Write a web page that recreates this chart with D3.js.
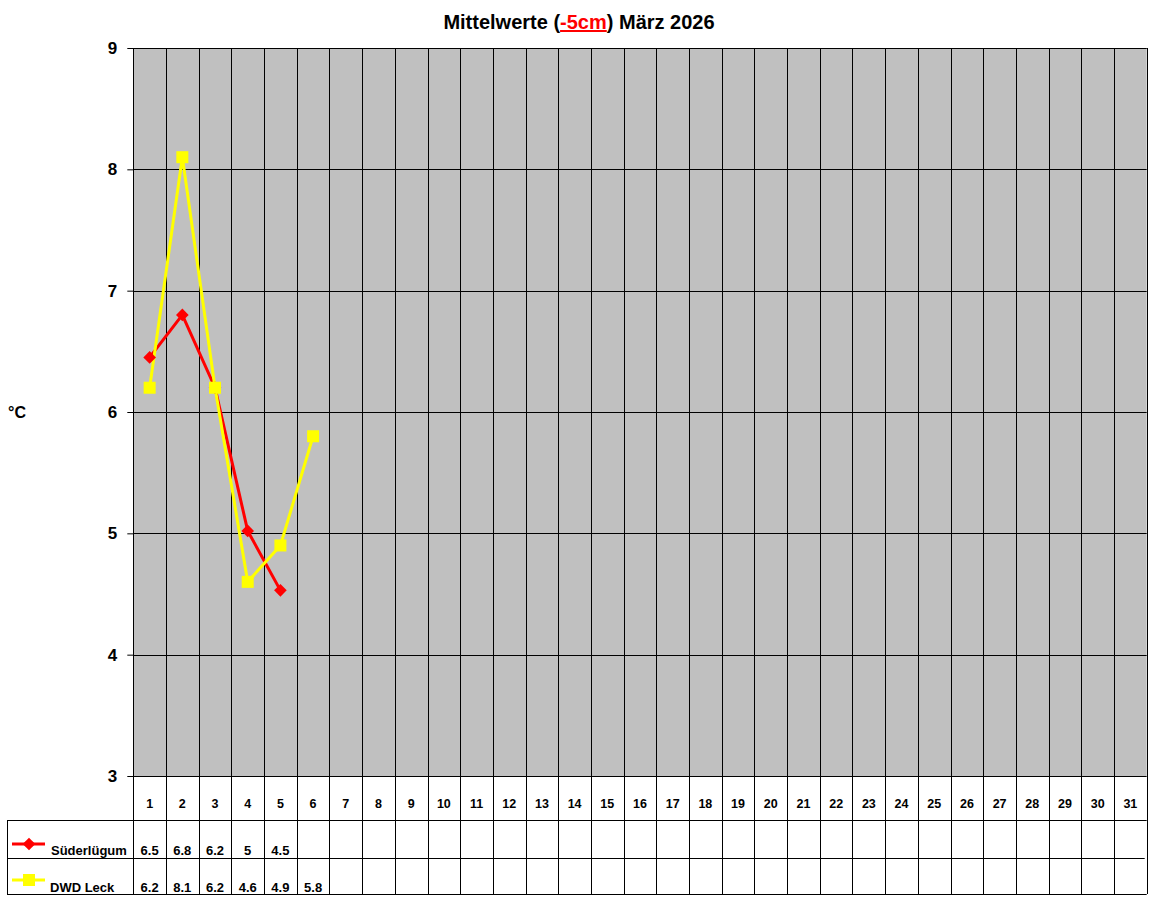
<!DOCTYPE html>
<html>
<head>
<meta charset="utf-8">
<script src="https://cdn.jsdelivr.net/npm/d3@7"></script>
<style>
  body { margin: 0; background: #fff; }
  svg { font-family: "Liberation Sans", Arial, sans-serif; font-weight: bold; }
</style>
</head>
<body>
<svg id="chart" width="1152" height="900"></svg>
<script>
// data
const days = d3.range(1, 32);
const sued = [6.45, 6.8, 6.2, 5.02, 4.53];
const dwd = [6.2, 8.1, 6.2, 4.6, 4.9, 5.8];
const suedLabels = ["6.5", "6.8", "6.2", "5", "4.5"];
const dwdLabels = ["6.2", "8.1", "6.2", "4.6", "4.9", "5.8"];
const yTicks = [3, 4, 5, 6, 7, 8, 9];

const svg = d3.select("#chart");
const plot = { left: 133.3, right: 1146.7, top: 48, bottom: 776 };
const rows = { header: 820, r1: 858, r2: 894 };

const x = d3.scaleBand().domain(days).range([plot.left, plot.right]);
const y = d3.scaleLinear().domain([3, 9]).range([plot.bottom, plot.top]);
const cx = d => x(d) + x.bandwidth() / 2;

// plot background
svg.append("rect")
  .attr("x", plot.left).attr("y", plot.top)
  .attr("width", plot.right - plot.left).attr("height", plot.bottom - plot.top)
  .attr("fill", "#c0c0c0");
svg.append("line")
  .attr("x1", plot.left).attr("x2", plot.right)
  .attr("y1", plot.top + 0.5).attr("y2", plot.top + 0.5)
  .attr("stroke", "#808080");

// horizontal grid
svg.append("g").selectAll("line").data(yTicks.slice(1)).enter().append("line")
  .attr("x1", plot.left).attr("x2", plot.right)
  .attr("y1", d => Math.round(y(d)) + 0.5).attr("y2", d => Math.round(y(d)) + 0.5)
  .attr("stroke", "#000");

// y axis
const yAxis = svg.append("g")
  .attr("transform", `translate(${plot.left},0)`)
  .call(d3.axisLeft(y).tickValues(yTicks).tickSize(6).tickPadding(10).tickFormat(d3.format("d")));
yAxis.select(".domain").remove();
yAxis.selectAll("line").attr("stroke", "#000");
yAxis.selectAll("text").attr("font-size", 17).attr("font-family", "Liberation Sans, Arial").attr("font-weight", "bold").attr("fill", "#000");

svg.append("text").attr("x", 8).attr("y", 418).attr("font-size", 16).text("°C");

// title
const title = svg.append("text").attr("x", 579).attr("y", 29)
  .attr("text-anchor", "middle").attr("font-size", 20);
title.append("tspan").text("Mittelwerte (");
title.append("tspan").attr("fill", "#ff0000").attr("text-decoration", "underline").text("-5cm");
title.append("tspan").text(") März 2026");

// vertical grid + table columns
const bounds = days.map(d => x(d)).concat([plot.right]);
svg.append("g").selectAll("line").data(bounds).enter().append("line")
  .attr("x1", d => Math.round(d) + 0.5).attr("x2", d => Math.round(d) + 0.5)
  .attr("y1", plot.top).attr("y2", rows.r2)
  .attr("stroke", "#000");

// table horizontal lines
svg.append("line").attr("x1", 7).attr("x2", plot.right).attr("y1", rows.header + 0.5).attr("y2", rows.header + 0.5).attr("stroke", "#000");
svg.append("line").attr("x1", 7).attr("x2", plot.right - 2).attr("y1", rows.r1 + 0.5).attr("y2", rows.r1 + 0.5).attr("stroke", "#000");
svg.append("line").attr("x1", 7).attr("x2", plot.right).attr("y1", rows.r2 + 0.5).attr("y2", rows.r2 + 0.5).attr("stroke", "#000");
svg.append("line").attr("x1", 7.5).attr("x2", 7.5).attr("y1", rows.header).attr("y2", rows.r2).attr("stroke", "#000");
svg.append("line").attr("x1", plot.left).attr("x2", plot.right).attr("y1", plot.bottom + 0.5).attr("y2", plot.bottom + 0.5).attr("stroke", "#000");

// day labels
svg.append("g").selectAll("text").data(days).enter().append("text")
  .attr("x", d => cx(d)).attr("y", 808).attr("text-anchor", "middle")
  .attr("font-size", 12.5).text(d => d);

// table values
svg.append("g").selectAll("text").data(suedLabels).enter().append("text")
  .attr("x", (d, i) => cx(days[i])).attr("y", 855).attr("text-anchor", "middle")
  .attr("font-size", 13).text(d => d);
svg.append("g").selectAll("text").data(dwdLabels).enter().append("text")
  .attr("x", (d, i) => cx(days[i])).attr("y", 892).attr("text-anchor", "middle")
  .attr("font-size", 13).text(d => d);

// series lines
const line = d3.line().x((d, i) => cx(days[i])).y(d => y(d));
svg.append("path").datum(sued).attr("d", line)
  .attr("fill", "none").attr("stroke", "#ff0000").attr("stroke-width", 3);
svg.append("path").datum(dwd).attr("d", line)
  .attr("fill", "none").attr("stroke", "#ffff00").attr("stroke-width", 3);

const diamond = d3.symbol().type(d3.symbolSquare).size(80);
svg.append("g").selectAll("path").data(sued).enter().append("path")
  .attr("d", diamond)
  .attr("transform", (d, i) => `translate(${cx(days[i])},${y(d)}) rotate(45)`)
  .attr("fill", "#ff0000");
svg.append("g").selectAll("rect").data(dwd).enter().append("rect")
  .attr("x", (d, i) => cx(days[i]) - 6).attr("y", d => y(d) - 6)
  .attr("width", 12).attr("height", 12).attr("fill", "#ffff00");

// legend
svg.append("line").attr("x1", 12).attr("x2", 45).attr("y1", 844).attr("y2", 844).attr("stroke", "#ff0000").attr("stroke-width", 3);
svg.append("path").attr("d", diamond).attr("transform", "translate(29,844) rotate(45)").attr("fill", "#ff0000");
svg.append("text").attr("x", 51).attr("y", 855).attr("font-size", 13).text("Süderlügum");
svg.append("line").attr("x1", 12).attr("x2", 45).attr("y1", 880).attr("y2", 880).attr("stroke", "#ffff00").attr("stroke-width", 3);
svg.append("rect").attr("x", 23).attr("y", 874).attr("width", 12).attr("height", 12).attr("fill", "#ffff00");
svg.append("text").attr("x", 50).attr("y", 892).attr("font-size", 13).text("DWD Leck");
</script>
</body>
</html>
